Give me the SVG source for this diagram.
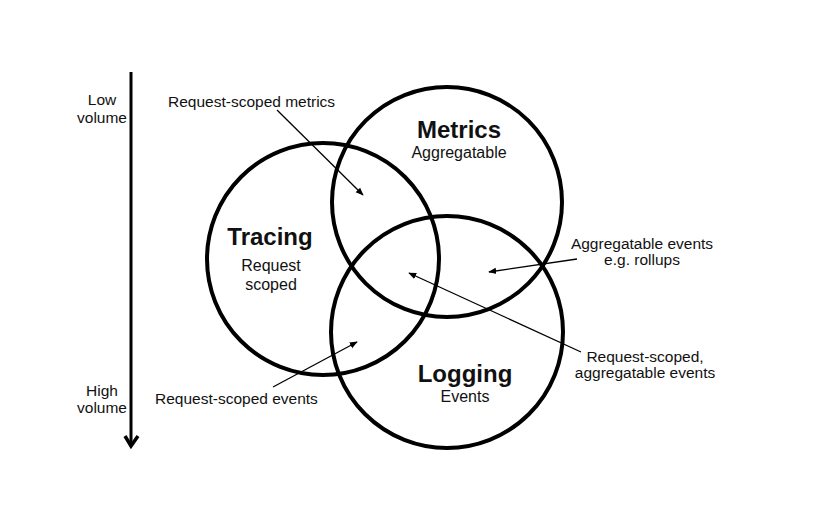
<svg xmlns="http://www.w3.org/2000/svg" width="832" height="524" viewBox="0 0 832 524">
<defs>
<style>
.c{fill:none;stroke:#000;stroke-width:4}
.t{font-family:"Liberation Sans",Arial,sans-serif;fill:#111}
.b{font-size:24px;font-weight:bold;text-anchor:middle}
.s{font-size:16px;text-anchor:middle}
.a{font-size:15.5px}
.ln{fill:none;stroke:#000;stroke-width:1.3}
</style>
<marker id="ah" viewBox="0 0 10 10" refX="9" refY="5" markerWidth="8" markerHeight="8" markerUnits="userSpaceOnUse" orient="auto">
<path d="M0,1 L10,5 L0,9 Z" fill="#000"/>
</marker>
</defs>
<rect width="832" height="524" fill="#fff"/>
<g id="axis">
<line x1="131" y1="72" x2="131" y2="446" stroke="#000" stroke-width="3"/>
<polyline points="125,436 131,446 138,436" fill="none" stroke="#000" stroke-width="3.5" stroke-linejoin="miter"/>
<text class="t a" x="102" y="105" text-anchor="middle">Low</text>
<text class="t a" x="102" y="123" text-anchor="middle">volume</text>
<text class="t a" x="102" y="396" text-anchor="middle">High</text>
<text class="t a" x="102" y="413" text-anchor="middle">volume</text>
</g>
<g id="tracing">
<circle class="c" cx="323" cy="259" r="116"/>
<text class="t b" x="270" y="245">Tracing</text>
<text class="t s" x="271" y="271">Request</text>
<text class="t s" x="271" y="290">scoped</text>
</g>
<g id="metrics">
<circle class="c" cx="447" cy="202" r="115"/>
<text class="t b" x="459" y="138">Metrics</text>
<text class="t s" x="459" y="158">Aggregatable</text>
</g>
<g id="logging">
<circle class="c" cx="447" cy="332" r="116"/>
<text class="t b" x="465" y="382">Logging</text>
<text class="t s" x="465" y="402">Events</text>
</g>
<g id="labels">
<text class="t a" x="168" y="107">Request-scoped metrics</text>
<text class="t a" x="642" y="249" text-anchor="middle">Aggregatable events</text>
<text class="t a" x="642" y="265" text-anchor="middle">e.g. rollups</text>
<text class="t a" x="645" y="362" text-anchor="middle">Request-scoped,</text>
<text class="t a" x="645" y="378" text-anchor="middle">aggregatable events</text>
<text class="t a" x="155" y="404">Request-scoped events</text>
</g>
<g id="connectors">
<line class="ln" x1="277" y1="110" x2="363" y2="195" marker-end="url(#ah)"/>
<line class="ln" x1="577" y1="259" x2="489" y2="272" marker-end="url(#ah)"/>
<line class="ln" x1="581" y1="352" x2="409" y2="273" marker-end="url(#ah)"/>
<line class="ln" x1="273" y1="387" x2="357" y2="342" marker-end="url(#ah)"/>
</g>
</svg>
